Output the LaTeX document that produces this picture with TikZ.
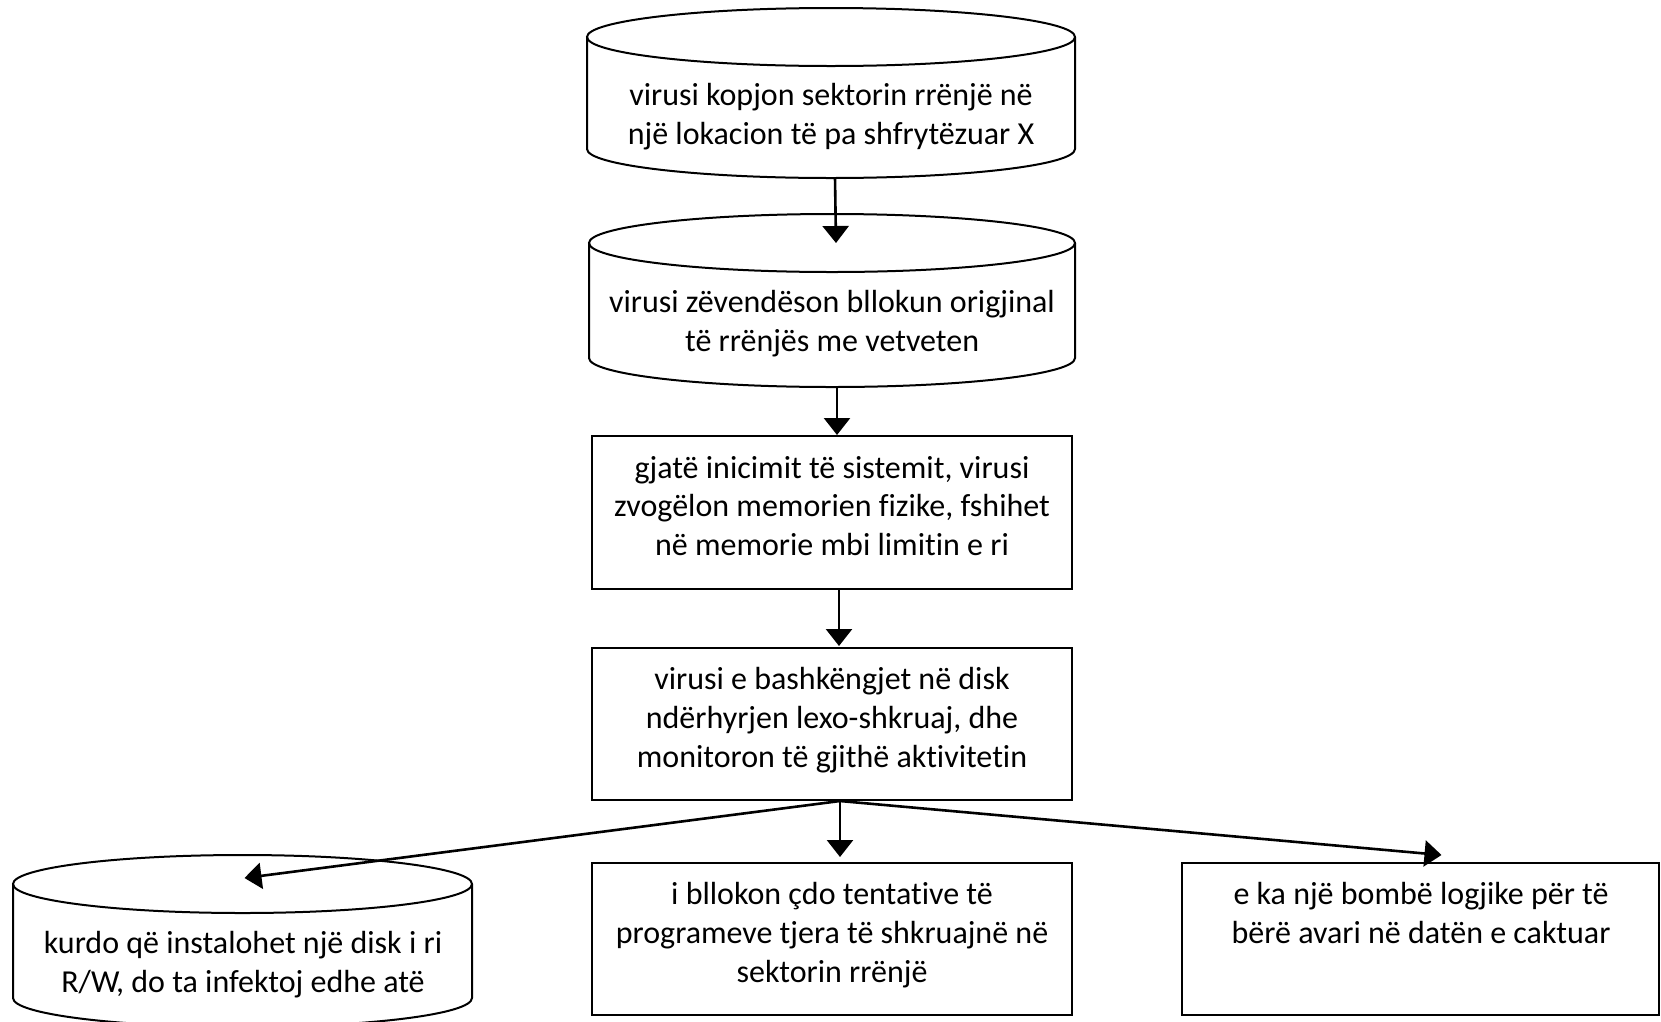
\documentclass[tikz,border=0pt]{standalone}
\usepackage{fontspec}
\setmainfont[Ligatures={NoCommon}]{Carlito}
\usetikzlibrary{arrows.meta}
\newcommand\mycyl[5]{% cx, rx, ytop, ybot, ry
  \draw[shp] ({#1-#2},#3) -- ({#1-#2},#4)
     arc[start angle=180,end angle=360,x radius=#2 pt,y radius=#5 pt]
     -- ({#1+#2},#3);
  \draw[shp] (#1,#3) ellipse[x radius=#2 pt,y radius=#5 pt];
}
\begin{document}
\begin{tikzpicture}[x=1pt,y=-1pt,
  shp/.style={draw=black,line width=2pt},
  box/.style={shp,rectangle,inner sep=0pt},
  txt/.style={align=center,font=\fontsize{32}{38.8}\selectfont,inner sep=0pt},
  arr/.style={line width=2.6pt,-{Triangle[width=26pt,length=17pt]}}]
\useasboundingbox (0,0) rectangle (1661,1021);
\begin{scope}
\clip (0,0) rectangle (1661,1021);
% cylinders
\mycyl{831}{244}{37}{149}{29}
\coordinate (k1top) at (831,37);
\coordinate (k1bot) at (831,178);
\node[txt] (t1) at (831,117) {virusi kopjon sektorin rrënjë në\\një lokacion të pa shfrytëzuar X};

\mycyl{832}{243}{243}{358}{29}
\coordinate (k2top) at (832,243);
\coordinate (k2bot) at (832,387);
\node[txt] (t2) at (832,324) {virusi zëvendëson bllokun origjinal\\të rrënjës me vetveten};

\mycyl{242.5}{229.5}{884}{998}{29}
\coordinate (kLtop) at (242.5,884);
\node[txt] (tL) at (243,965) {kurdo që instalohet një disk i ri\\R/W, do ta infektoj edhe atë};
\end{scope}

% boxes
\node[box,minimum width=480pt,minimum height=153pt] (b3) at (832,512.5) {};
\node[txt] (t3) at (832,506) {gjatë inicimit të sistemit, virusi\\zvogëlon memorien fizike, fshihet\\në memorie mbi limitin e ri};

\node[box,minimum width=480pt,minimum height=152pt] (b4) at (832,724) {};
\node[txt] (t4) at (832,720) {virusi e bashkëngjet në disk\\ndërhyrjen lexo-shkruaj, dhe\\monitoron të gjithë aktivitetin};

\node[box,minimum width=480pt,minimum height=152pt] (b5) at (832,939) {};
\node[txt] (t5) at (832,935) {i bllokon çdo tentative të\\programeve tjera të shkruajnë në\\sektorin rrënjë};

\node[box,minimum width=477pt,minimum height=152pt] (b6) at (1420.5,939) {};
\node[txt] (t6) at (1421,913) {e ka një bombë logjike për të\\bërë avari në datën e caktuar};

% connectors
\draw[arr] ([xshift=4pt]k1bot) -- ([xshift=4pt]k2top);
\draw[arr] ([xshift=5pt]k2bot) -- ([xshift=5pt]b3.north);
\draw[arr] ([xshift=7pt]b3.south) -- ([xshift=7pt,yshift=1pt]b4.north);
\coordinate (fork) at ([xshift=8pt]b4.south);
\draw[arr] (fork) -- ([xshift=8pt,yshift=5pt]b5.north);
\draw[arr] (fork) -- ([xshift=2pt,yshift=6pt]kLtop);
\draw[arr] (fork) -- ([xshift=21pt,yshift=7pt]b6.north);
\end{tikzpicture}
\end{document}
